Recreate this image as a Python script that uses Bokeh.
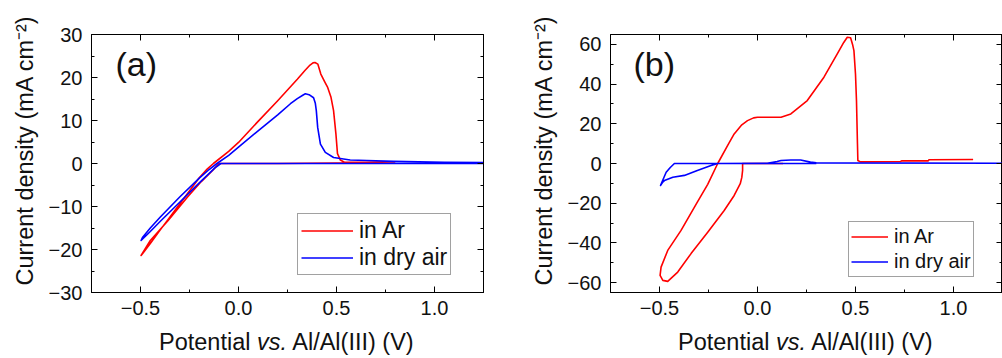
from bokeh.plotting import figure
from bokeh.models import (LinearAxis, FixedTicker, CustomJSTickFormatter, Label,
                          Legend, LegendItem, Range1d, Title, Div)
from bokeh.layouts import row, column
from bokeh.embed import file_html
from bokeh.resources import INLINE

FONT = "Liberation Sans"

# ---------------- data: panel (a) ----------------
a_ar_v = [0.80, 0.50, 0.20, 0.00, -0.08, -0.10, -0.13, -0.19, -0.26, -0.36, -0.45, -0.497,
          -0.48, -0.45, -0.40, -0.30, -0.20, -0.16, -0.128, -0.05, 0.00, 0.10, 0.20, 0.30,
          0.34, 0.365, 0.38, 0.39, 0.405, 0.42, 0.44, 0.455, 0.472, 0.485, 0.497, 0.505,
          0.52, 0.54, 0.65, 0.80]
a_ar_j = [0.2, 0.1, 0.0, 0.0, 0.0, 0.0, -1.5, -4.2, -7.8, -13.3, -17.9, -21.4,
          -20.4, -18.6, -15.5, -9.4, -3.3, -1.3, 0.0, 2.8, 4.9, 9.8, 14.6, 19.6,
          21.7, 22.9, 23.4, 23.5, 23.1, 20.8, 19.0, 17.7, 15.4, 12.3, 6.9, 2.3,
          0.8, 0.3, 0.3, 0.4]
a_air_v = [0.00, -0.09, -0.12, -0.20, -0.30, -0.40, -0.45, -0.497,
           -0.49, -0.45, -0.40, -0.30, -0.20, -0.15, -0.11, -0.05, 0.00, 0.10, 0.20,
           0.265, 0.30, 0.332, 0.341, 0.36, 0.383, 0.392, 0.397, 0.404, 0.418, 0.443,
           0.485, 0.57, 0.655, 0.79, 1.05, 1.25, 1.25, 0.00]
a_air_j = [0.0, 0.0, -1.0, -4.5, -9.0, -13.5, -15.8, -17.9,
           -17.2, -15.0, -12.5, -7.8, -3.4, -1.4, 0.0, 1.9, 3.8, 7.6, 11.3,
           13.9, 15.1, 16.0, 16.2, 16.0, 15.3, 14.0, 12.3, 8.4, 4.5, 2.6,
           1.4, 0.8, 0.7, 0.5, 0.3, 0.2, 0.0, 0.0]

# ---------------- data: panel (b) ----------------
b_ar_v = [0.13, 0.00, -0.076, -0.076, -0.08, -0.088, -0.119, -0.17, -0.254, -0.339, -0.407,
          -0.458, -0.483, -0.497, -0.492, -0.458, -0.39, -0.307, -0.254, -0.203, -0.15,
          -0.119, -0.08, -0.051, -0.02, 0.00, 0.12, 0.17, 0.254, 0.339, 0.407, 0.44, 0.458,
          0.475, 0.485, 0.492, 0.50, 0.505, 0.51, 0.512, 0.525, 0.73, 0.735, 0.87, 0.875, 1.10]
b_ar_j = [0.0, 0.0, 0.0, -3.5, -7.0, -10.2, -16.1, -23.7, -34.6, -45.4, -54.7,
          -59.4, -58.9, -56.4, -52.2, -43.8, -33.7, -19.5, -10.5, 0.0, 9.5,
          14.9, 19.5, 21.6, 23.0, 23.3, 23.3, 25.0, 31.7, 43.5, 55.2, 61.0, 63.6,
          63.4, 60.0, 56.9, 45.0, 31.7, 10.0, 1.5, 0.8, 1.0, 1.3, 1.3, 1.9, 2.0]
b_air_v = [0.30, -0.424, -0.445, -0.466, -0.495, -0.485, -0.475, -0.455, -0.432, -0.373,
           -0.307, -0.237, -0.203, 0.05, 0.10, 0.12, 0.17, 0.22, 0.27, 0.30, 1.25]
b_air_j = [0.0, 0.0, -2.0, -4.4, -11.1, -9.6, -8.6, -7.8, -6.9, -6.0,
           -3.5, -1.0, 0.0, 0.1, 1.0, 1.5, 1.8, 1.8, 0.7, 0.3, 0.15]

# ---------------- ticks / labels ----------------
x_ticks = [-0.5, 0.0, 0.5, 1.0]
x_minor = [-0.25, 0.25, 0.75]
a_y_ticks = [-30, -20, -10, 0, 10, 20, 30]
a_y_minor = [-25, -15, -5, 5, 15, 25]
b_y_ticks = [-60, -40, -20, 0, 20, 40, 60]
b_y_minor = [-50, -30, -10, 10, 30, 50]
series_names = ["in Ar", "in dry air"]
series_colors = ["#ff0000", "#0000ff"]
x_title = ["Potential", "vs.", "Al/Al(III) (V)"]
y_title = "Current density (mA cm\u207b\u00b2)"
panel_tags = ["(a)", "(b)"]

X_FMT = "return tick.toFixed(1).replace('-', '\u2212');"
Y_FMT = "return tick.toFixed(0).replace('-', '\u2212');"
FIG_H = 326
DIV_H = 32
BORDER_TOP = 34
FRAME_H = 258


def style_axis(ax, ticks, minor, fmt, labels=True, standoff=6):
    ax.ticker = FixedTicker(ticks=ticks, minor_ticks=minor)
    ax.major_tick_in = 6
    ax.major_tick_out = 0
    ax.minor_tick_in = 3
    ax.minor_tick_out = 0
    ax.axis_line_color = "black"
    ax.major_tick_line_color = "black"
    ax.minor_tick_line_color = "black"
    ax.axis_line_width = 1
    if labels:
        ax.formatter = CustomJSTickFormatter(code=fmt)
        ax.major_label_text_font = FONT
        ax.major_label_text_font_size = "20px"
        ax.major_label_text_color = "#111111"
        ax.major_label_standoff = standoff
    else:
        ax.formatter = CustomJSTickFormatter(code="return '';")
        ax.major_label_text_font_size = "0px"
        ax.major_label_standoff = 0


def make_panel(width, xr, yr, yt, ym, mb_left, mb_right, ar, air, tag, tag_x,
               leg_loc, leg_font, leg_glyph_w, leg_row_h, leg_pad, leg_standoff):
    p = figure(width=width, height=FIG_H, output_backend="svg", toolbar_location=None,
               x_range=Range1d(*xr), y_range=Range1d(*yr),
               min_border_left=mb_left, min_border_right=mb_right,
               min_border_top=BORDER_TOP, min_border_bottom=FIG_H - BORDER_TOP - FRAME_H)
    p.xgrid.visible = False
    p.ygrid.visible = False
    p.outline_line_color = "black"
    p.background_fill_color = "white"
    p.border_fill_color = "white"

    style_axis(p.below[0], x_ticks, x_minor, X_FMT, True, 8)
    style_axis(p.left[0], yt, ym, Y_FMT, True, 9)
    top = LinearAxis()
    style_axis(top, x_ticks, x_minor, X_FMT, False)
    p.add_layout(top, "above")
    right = LinearAxis()
    style_axis(right, yt, ym, Y_FMT, False)
    p.add_layout(right, "right")

    rends = []
    for (vx, vy), col in zip([ar, air], series_colors):
        r = p.line(vx, vy, line_color=col, line_width=1.6, line_join="round")
        rends.append(r)

    leg = Legend(items=[LegendItem(label=n, renderers=[r]) for n, r in zip(series_names, rends)],
                 location=leg_loc, label_text_font=FONT, label_text_font_size=leg_font,
                 label_text_color="#111111", glyph_width=leg_glyph_w, glyph_height=leg_row_h,
                 label_height=leg_row_h, padding=leg_pad, spacing=0, margin=0,
                 label_standoff=leg_standoff, border_line_color="#444444",
                 border_line_width=1, background_fill_color="white", background_fill_alpha=1)
    p.add_layout(leg, "center")

    p.add_layout(Label(x=tag_x, y=229, x_units="screen", y_units="screen", text=tag,
                       text_font=FONT, text_font_size="34px", text_color="#111111",
                       text_baseline="alphabetic", text_align="left"))

    p.add_layout(Title(text=y_title, align="left", offset=7, vertical_align="bottom",
                       standoff=16, text_font=FONT, text_font_size="23.5px",
                       text_font_style="normal", text_color="#111111"), "left")
    return p


def x_title_div(width, pad_left):
    html = (f'<div style="font-family:\'{FONT}\';font-size:23.5px;line-height:27px;'
            f'padding-top:3px;padding-left:{pad_left}px;color:#111111;white-space:nowrap;">'
            f'{x_title[0]} <i>{x_title[1]}</i> {x_title[2]}</div>')
    return Div(text=html, width=width, height=DIV_H, margin=0)


pa = make_panel(520, (-0.75, 1.25), (-30, 30), a_y_ticks, a_y_minor, 91, 37,
                (a_ar_v, a_ar_j), (a_air_v, a_air_j), panel_tags[0], 24,
                (206, 17), "23px", 52, 27, 3, 6)
pb = make_panel(482, (-0.75, 1.25), (-65, 65), b_y_ticks, b_y_minor, 89, 0,
                (b_ar_v, b_ar_j), (b_air_v, b_air_j), panel_tags[1], 23,
                (238, 15), "20px", 37, 25, 2, 6)

layout = column(row(pa, pb), row(x_title_div(520, 159), x_title_div(482, 158)))
open("out.html", "w", encoding="utf-8").write(file_html(layout, INLINE))
